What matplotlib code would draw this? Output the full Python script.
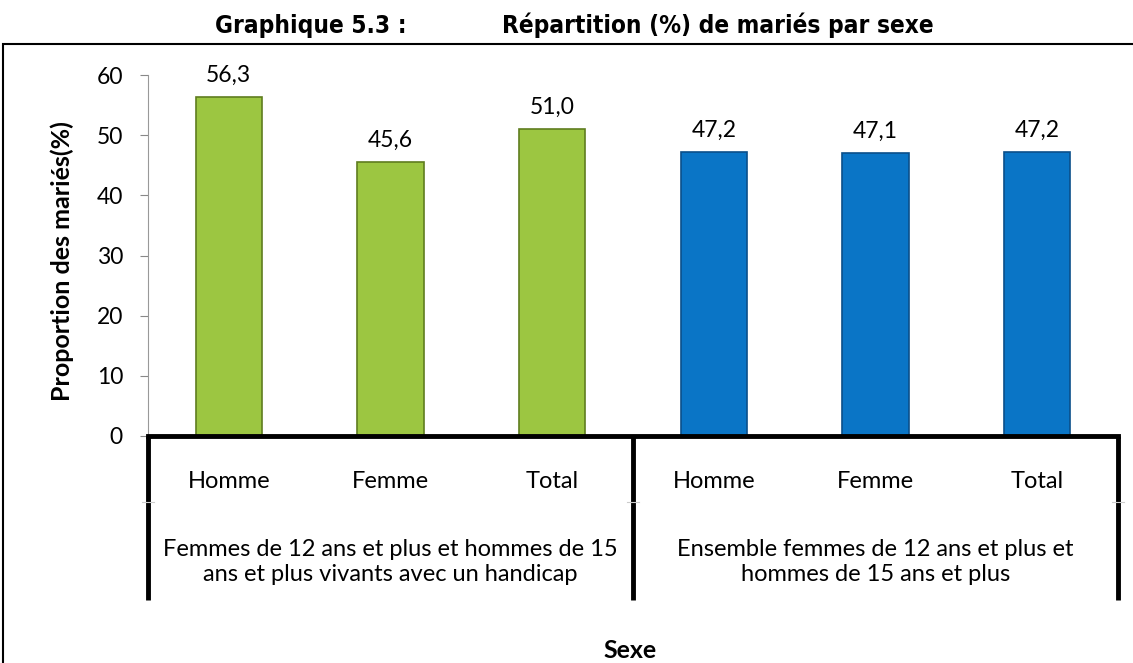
import matplotlib.pyplot as plt
import matplotlib.transforms as mtransforms
from matplotlib.patches import Rectangle

categories = ['Homme', 'Femme', 'Total', 'Homme', 'Femme', 'Total']
values = [56.3, 45.6, 51.0, 47.2, 47.1, 47.2]
value_labels = ['56,3', '45,6', '51,0', '47,2', '47,1', '47,2']
groups = ['Femmes de 12 ans et plus et hommes de 15\nans et plus vivants avec un handicap',
          'Ensemble femmes de 12 ans et plus et\nhommes de 15 ans et plus']
yticks = [0, 10, 20, 30, 40, 50, 60]

face = ['#9CC641'] * 3 + ['#0A75C6'] * 3
edge = ['#5F7D1F'] * 3 + ['#0B4F8A'] * 3

plt.rcParams['font.family'] = ['Lato', 'DejaVu Sans']

fig = plt.figure(figsize=(11.33, 6.63), dpi=100)
ax = fig.add_axes([148 / 1133, 1 - 436 / 663, 970 / 1133, 361 / 663])

x = list(range(len(values)))
ax.bar(x, values, width=0.41, color=face, edgecolor=edge, linewidth=1.2, zorder=2)
for xi, v, lab in zip(x, values, value_labels):
    ax.annotate(lab, (xi, v), xytext=(0, 8), textcoords='offset points',
                ha='center', va='bottom', fontsize=16.5)

ax.set_xlim(-0.5, 5.5)
ax.set_ylim(0, 60)
ax.set_yticks(yticks)
ax.set_yticklabels([str(t) for t in yticks], fontsize=16.5)
ax.tick_params(axis='y', length=6, color='#888888', pad=12)
ax.set_xticks([])
for s in ['top', 'right']:
    ax.spines[s].set_visible(False)
ax.spines['left'].set_color('#999999')
ax.spines['left'].set_linewidth(0.8)
ax.spines['bottom'].set_linewidth(3.5)
ax.spines['bottom'].set_color('black')

trans = mtransforms.blended_transform_factory(ax.transData, ax.transAxes)
for sx in [-0.5, 2.5, 5.5]:
    ax.plot([sx, sx], [0, -164 / 361], color='black', lw=3.5, transform=trans,
            clip_on=False, solid_capstyle='butt')
    # faint separators between the two label rows
    ax.plot([sx - 0.04, sx + 0.04], [-66 / 361, -66 / 361], color='#cccccc', lw=0.8,
            transform=trans, clip_on=False)
for xi, c in zip(x, categories):
    ax.text(xi, -45 / 361, c, transform=trans, ha='center', va='center', fontsize=17)
for gx, g in zip([1, 4], groups):
    ax.text(gx, -126 / 361, g, transform=trans, ha='center', va='center',
            fontsize=17, linespacing=1.2)

fig.text(62 / 1133, 1 - 261 / 663, 'Proportion des mariés(%)', rotation=90,
         ha='center', va='center', fontsize=18, fontweight='bold')
fig.text(630 / 1133, 1 - 651 / 663, 'Sexe', ha='center', va='center',
         fontsize=18, fontweight='bold')

fig.text(215 / 1133, 1 - 33 / 663, 'Graphique 5.3 :', ha='left', va='baseline',
         fontsize=17.5, fontweight='bold', family='DejaVu Sans', fontstretch='condensed')
fig.text(502 / 1133, 1 - 33 / 663, 'Répartition (%) de mariés par sexe', ha='left',
         va='baseline', fontsize=17.5, fontweight='bold', family='DejaVu Sans',
         fontstretch='condensed')

fig.patches.append(Rectangle((3 / 1133, -0.05), 1.1, 1 - 44 / 663 + 0.05,
                             transform=fig.transFigure, fill=False,
                             edgecolor='black', linewidth=1.5))

fig.savefig('out.png', dpi=100)
